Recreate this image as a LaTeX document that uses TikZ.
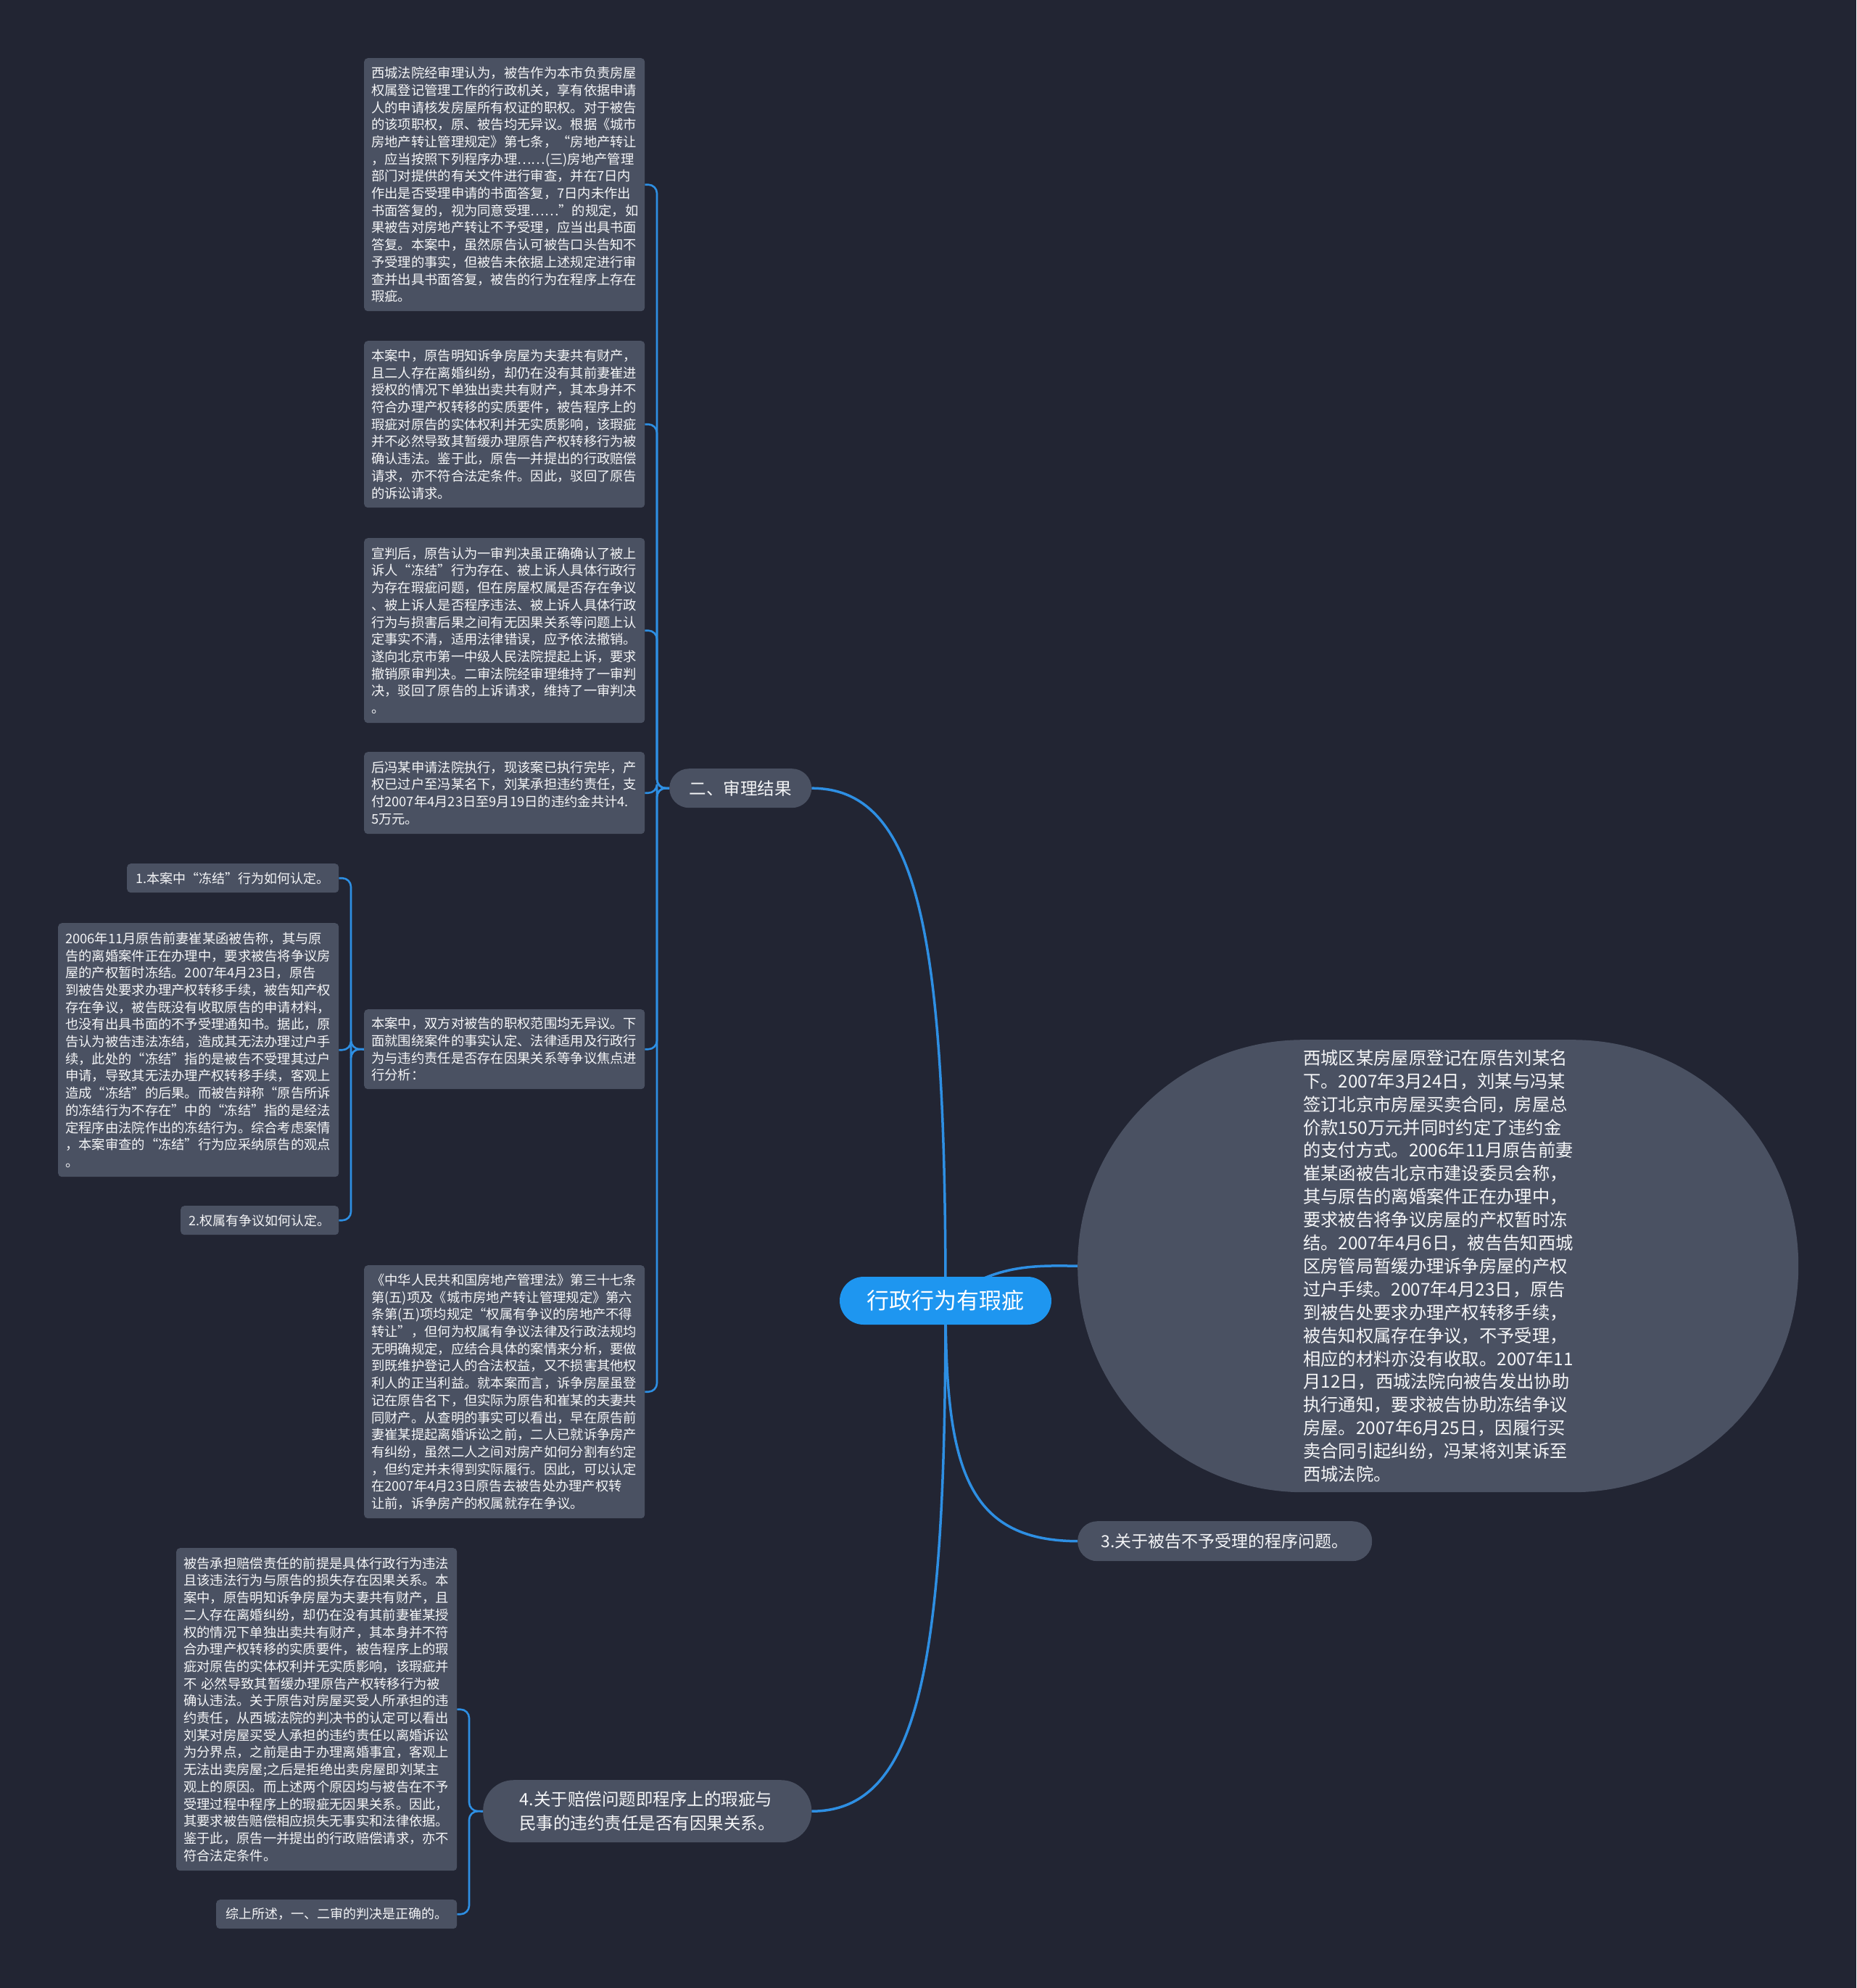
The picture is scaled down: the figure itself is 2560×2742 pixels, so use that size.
\documentclass[tikz,border=0pt]{standalone}
\usepackage{fontspec}
\setmainfont{Noto Sans CJK SC}
\pgfdeclarelayer{bg}
\pgfdeclarelayer{lines}
\pgfsetlayers{bg,lines,main}
\definecolor{bgc}{HTML}{222533}
\definecolor{nodefill}{HTML}{4A5162}
\definecolor{lineblue}{HTML}{2E8FE3}
\definecolor{rootblue}{HTML}{1E96F0}
\definecolor{txt}{HTML}{F4F5F7}
\tikzset{
  tbox/.style={fill=nodefill, rounded corners=5pt, text=txt, align=left,
    font=\fontsize{18.3}{23.7}\selectfont, text width=367pt, inner xsep=10pt,
    inner ysep=0pt, anchor=north west},
  sbox/.style={fill=nodefill, rounded corners=5pt, text=txt,
    font=\fontsize{18}{22}\selectfont, inner xsep=0pt, inner ysep=0pt,
    minimum height=40pt, anchor=north west},
  pill/.style={fill=nodefill, text=txt, inner xsep=0pt, inner ysep=0pt,
    anchor=north west},
  rootn/.style={fill=rootblue, text=white, rounded corners=33pt,
    minimum width=292pt, minimum height=66pt, inner sep=0pt,
    font=\fontsize{31}{36}\selectfont},
  mainline/.style={draw=lineblue, line width=3.5pt},
  brline/.style={draw=lineblue, line width=2.6pt, rounded corners=12pt},
}
\begin{document}
\begin{tikzpicture}[x=1pt,y=-1pt]
\useasboundingbox (0,0) rectangle (2560,2742);
\begin{pgfonlayer}{bg}
\fill[bgc] (0,0) rectangle (2560,2742);
\end{pgfonlayer}

% root
\node[rootn] (R) at (1304,1794) {行政行为有瑕疵};

% first-level
\node[pill, rounded corners=27pt, minimum width=196pt, minimum height=54pt,
  font=\fontsize{23.5}{28}\selectfont] (N2) at (923,1060) {二、审理结果};
\node[pill, rounded corners=27pt, minimum width=406pt, minimum height=55pt,
  font=\fontsize{23}{28}\selectfont] (N3) at (1486,2098) {3.关于被告不予受理的程序问题。};
\node[pill, rounded corners=42pt, minimum width=453pt, minimum height=86pt, align=left,
  font=\fontsize{23.5}{33}\selectfont] (N4) at (666,2455)
  {4.关于赔偿问题即程序上的瑕疵与\\民事的违约责任是否有因果关系。};
\node[pill, rounded corners=311pt, minimum width=994pt, minimum height=624pt,
  align=left, text width=372pt, font=\fontsize{24.3}{31.9}\selectfont] (EL) at (1486,1434)
  {西城区某房屋原登记在原告刘某名\\
下。2007年3月24日，刘某与冯某\\
签订北京市房屋买卖合同，房屋总\\
价款150万元并同时约定了违约金\\
的支付方式。2006年11月原告前妻\\
崔某函被告北京市建设委员会称，\\
其与原告的离婚案件正在办理中，\\
要求被告将争议房屋的产权暂时冻\\
结。2007年4月6日，被告告知西城\\
区房管局暂缓办理诉争房屋的产权\\
过户手续。2007年4月23日，原告\\
到被告处要求办理产权转移手续，\\
被告知权属存在争议，不予受理，\\
相应的材料亦没有收取。2007年11\\
月12日，西城法院向被告发出协助\\
执行通知，要求被告协助冻结争议\\
房屋。2007年6月25日，因履行买\\
卖合同引起纠纷，冯某将刘某诉至\\
西城法院。};

% children of N2
\node[tbox, minimum height=349pt] (A) at (502,80) {西城法院经审理认为，被告作为本市负责房屋\\
权属登记管理工作的行政机关，享有依据申请\\
人的申请核发房屋所有权证的职权。对于被告\\
的该项职权，原、被告均无异议。根据《城市\\
房地产转让管理规定》第七条，“房地产转让\\
，应当按照下列程序办理……(三)房地产管理\\
部门对提供的有关文件进行审查，并在7日内\\
作出是否受理申请的书面答复，7日内未作出\\
书面答复的，视为同意受理……”的规定，如\\
果被告对房地产转让不予受理，应当出具书面\\
答复。本案中，虽然原告认可被告口头告知不\\
予受理的事实，但被告未依据上述规定进行审\\
查并出具书面答复，被告的行为在程序上存在\\
瑕疵。};

\node[tbox, minimum height=230pt] (B) at (502,470) {本案中，原告明知诉争房屋为夫妻共有财产，\\
且二人存在离婚纠纷，却仍在没有其前妻崔进\\
授权的情况下单独出卖共有财产，其本身并不\\
符合办理产权转移的实质要件，被告程序上的\\
瑕疵对原告的实体权利并无实质影响，该瑕疵\\
并不必然导致其暂缓办理原告产权转移行为被\\
确认违法。鉴于此，原告一并提出的行政赔偿\\
请求，亦不符合法定条件。因此，驳回了原告\\
的诉讼请求。};

\node[tbox, minimum height=255pt] (C) at (502,742) {宣判后，原告认为一审判决虽正确确认了被上\\
诉人“冻结”行为存在、被上诉人具体行政行\\
为存在瑕疵问题，但在房屋权属是否存在争议\\
、被上诉人是否程序违法、被上诉人具体行政\\
行为与损害后果之间有无因果关系等问题上认\\
定事实不清，适用法律错误，应予依法撤销。\\
遂向北京市第一中级人民法院提起上诉，要求\\
撤销原审判决。二审法院经审理维持了一审判\\
决，驳回了原告的上诉请求，维持了一审判决\\
。};

\node[tbox, minimum height=113pt] (D) at (502,1037) {后冯某申请法院执行，现该案已执行完毕，产\\
权已过户至冯某名下，刘某承担违约责任，支\\
付2007年4月23日至9月19日的违约金共计4.\\
5万元。};

\node[tbox, minimum height=110pt] (E) at (502,1392) {本案中，双方对被告的职权范围均无异议。下\\
面就围绕案件的事实认定、法律适用及行政行\\
为与违约责任是否存在因果关系等争议焦点进\\
行分析：};

\node[tbox, minimum height=349pt] (G) at (502,1745) {《中华人民共和国房地产管理法》第三十七条\\
第(五)项及《城市房地产转让管理规定》第六\\
条第(五)项均规定“权属有争议的房地产不得\\
转让”，但何为权属有争议法律及行政法规均\\
无明确规定，应结合具体的案情来分析，要做\\
到既维护登记人的合法权益，又不损害其他权\\
利人的正当利益。就本案而言，诉争房屋虽登\\
记在原告名下，但实际为原告和崔某的夫妻共\\
同财产。从查明的事实可以看出，早在原告前\\
妻崔某提起离婚诉讼之前，二人已就诉争房产\\
有纠纷，虽然二人之间对房产如何分割有约定\\
，但约定并未得到实际履行。因此，可以认定\\
在2007年4月23日原告去被告处办理产权转\\
让前，诉争房产的权属就存在争议。};

% children of E
\node[sbox, minimum width=292pt] (F1) at (175,1191) {1.本案中“冻结”行为如何认定。};
\node[tbox, minimum height=350pt] (F) at (80,1273) {2006年11月原告前妻崔某函被告称，其与原\\
告的离婚案件正在办理中，要求被告将争议房\\
屋的产权暂时冻结。2007年4月23日，原告\\
到被告处要求办理产权转移手续，被告知产权\\
存在争议，被告既没有收取原告的申请材料，\\
也没有出具书面的不予受理通知书。据此，原\\
告认为被告违法冻结，造成其无法办理过户手\\
续，此处的“冻结”指的是被告不受理其过户\\
申请，导致其无法办理产权转移手续，客观上\\
造成“冻结”的后果。而被告辩称“原告所诉\\
的冻结行为不存在”中的“冻结”指的是经法\\
定程序由法院作出的冻结行为。综合考虑案情\\
，本案审查的“冻结”行为应采纳原告的观点\\
。};
\node[sbox, minimum width=218pt] (F2) at (249,1663) {2.权属有争议如何认定。};

% children of N4
\node[tbox, minimum height=445pt] (H) at (243,2135) {被告承担赔偿责任的前提是具体行政行为违法\\
且该违法行为与原告的损失存在因果关系。本\\
案中，原告明知诉争房屋为夫妻共有财产，且\\
二人存在离婚纠纷，却仍在没有其前妻崔某授\\
权的情况下单独出卖共有财产，其本身并不符\\
合办理产权转移的实质要件，被告程序上的瑕\\
疵对原告的实体权利并无实质影响，该瑕疵并\\
不~必然导致其暂缓办理原告产权转移行为被\\
确认违法。关于原告对房屋买受人所承担的违\\
约责任，从西城法院的判决书的认定可以看出\\
刘某对房屋买受人承担的违约责任以离婚诉讼\\
为分界点，之前是由于办理离婚事宜，客观上\\
无法出卖房屋;之后是拒绝出卖房屋即刘某主\\
观上的原因。而上述两个原因均与被告在不予\\
受理过程中程序上的瑕疵无因果关系。因此，\\
其要求被告赔偿相应损失无事实和法律依据。\\
鉴于此，原告一并提出的行政赔偿请求，亦不\\
符合法定条件。};
\node[sbox, minimum width=332pt] (Z) at (298,2620) {综上所述，一、二审的判决是正确的。};

% connectors
\coordinate (t2) at (906,1087);
\coordinate (tE) at (484,1447);
\coordinate (t4) at (647,2498);
\begin{pgfonlayer}{lines}
\draw[mainline] (R.center) .. controls (1304,1300) and (1270,1087) .. (N2.east);
\draw[mainline] (R.center) .. controls (1304,2290) and (1270,2498) .. (N4.east);
\draw[mainline] (R.center) .. controls (1304,2020) and (1330,2125) .. (N3.west);
\draw[mainline] (R.center) .. controls (1370,1745) and (1420,1745) .. (EL.west);
\foreach \c in {A,B,C,D,E,G} \draw[brline] (N2.west) -- (t2) |- (\c.east);
\foreach \c in {F1,F,F2} \draw[brline] (E.west) -- (tE) |- (\c.east);
\foreach \c in {H,Z} \draw[brline] (N4.west) -- (t4) |- (\c.east);
\end{pgfonlayer}
\end{tikzpicture}
\end{document}
